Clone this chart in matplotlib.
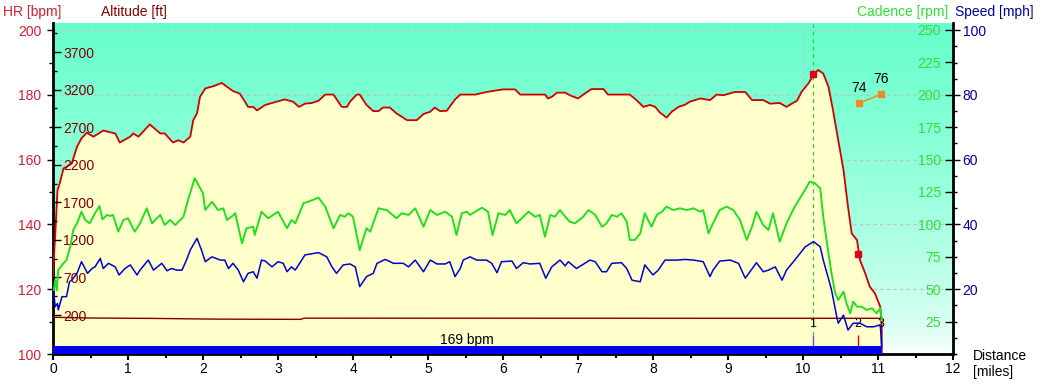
import matplotlib
matplotlib.use('Agg')
import matplotlib.pyplot as plt
import numpy as np
from matplotlib.ticker import MultipleLocator, FixedLocator

plt.rcParams['font.family'] = ['Liberation Sans', 'DejaVu Sans']
plt.rcParams['font.size'] = 10

# ---------------- data ----------------
hr_mi = [0.00,0.01,0.03,0.06,0.09,0.14,0.18,0.25,0.32,0.38,
         0.45,0.54,0.67,0.83,0.89,1.03,1.07,1.14,1.29,1.43,
         1.49,1.60,1.67,1.74,1.83,1.87,1.92,1.96,2.03,2.14,
         2.25,2.32,2.40,2.49,2.56,2.60,2.67,2.72,2.83,2.98,
         3.09,3.20,3.28,3.36,3.45,3.54,3.63,3.74,3.85,3.92,
         3.96,4.05,4.09,4.18,4.27,4.34,4.40,4.49,4.58,4.72,
         4.85,4.94,5.03,5.09,5.16,5.25,5.36,5.43,5.63,5.78,
         6.00,6.16,6.23,6.56,6.60,6.65,6.72,6.83,6.89,7.00,
         7.09,7.18,7.34,7.40,7.69,7.78,7.87,7.96,8.03,8.09,
         8.18,8.25,8.34,8.43,8.49,8.63,8.76,8.85,8.94,9.09,
         9.23,9.32,9.47,9.56,9.69,9.78,9.85,9.92,9.98,10.07,
         10.14,10.20,10.27,10.34,10.40,10.47,10.54,10.60,10.65,10.72,
         10.76,10.83,10.89,10.96,11.03,11.05,11.05]
hr_bpm = [124,129,137,150.6,152.7,157.3,157.8,158.8,164,166.6,
          168.3,167.1,169,168.1,165.3,167.1,168.1,167.1,170.9,168.1,
          168.1,165.3,166,165.3,167.1,172.2,174.3,179.4,182,182.7,
          183.7,182.5,181.2,180.4,177.9,176.3,176.3,175.2,176.9,177.9,
          178.6,177.9,176.3,177.3,177.5,178.2,180.1,180.1,176.3,176.3,
          177.9,180.1,180.1,176.9,175,175,176.1,176.1,174.3,172.2,
          172.2,174.1,174.8,176.1,175,175.1,178.6,180.1,180.1,180.9,
          181.7,181.7,180.1,180.1,178.9,179.4,180.7,180.7,179.9,178.9,
          180.4,181.8,181.8,180.1,180.1,178.4,176.3,176.9,176.3,174.6,
          173,174.8,176.3,177,177.9,178.9,178.4,180.1,179.9,180.9,
          180.9,178.4,178.4,177.3,177.5,176.3,177.3,178.2,180.9,183.5,
          186.1,187.7,186.6,182.5,175.3,166,156.8,145.5,137.2,135.2,
          129,124.9,120.8,118.7,114.6,108.4,100]

cad_mi = [0.01,0.03,0.05,0.07,0.14,0.18,0.23,0.27,0.32,0.38,
          0.43,0.49,0.56,0.62,0.66,0.72,0.76,0.80,0.87,0.94,
          1.00,1.09,1.16,1.25,1.32,1.43,1.49,1.56,1.63,1.74,
          1.80,1.89,2.00,2.03,2.12,2.20,2.27,2.32,2.38,2.43,
          2.47,2.52,2.58,2.67,2.69,2.78,2.87,3.00,3.12,3.18,
          3.23,3.34,3.43,3.54,3.63,3.74,3.83,3.89,3.94,4.00,
          4.09,4.18,4.23,4.34,4.45,4.58,4.65,4.74,4.83,4.94,
          5.03,5.12,5.23,5.32,5.38,5.45,5.52,5.56,5.63,5.72,
          5.80,5.86,5.94,6.03,6.09,6.18,6.34,6.43,6.49,6.56,
          6.63,6.69,6.76,6.83,6.89,6.96,7.07,7.14,7.23,7.32,
          7.38,7.45,7.52,7.58,7.65,7.69,7.76,7.83,7.89,7.98,
          8.05,8.12,8.18,8.27,8.36,8.45,8.54,8.63,8.67,8.74,
          8.80,8.89,8.98,9.07,9.16,9.25,9.32,9.38,9.47,9.54,
          9.60,9.69,9.78,9.89,10.00,10.09,10.16,10.23,10.27,10.32,
          10.38,10.43,10.47,10.54,10.58,10.63,10.67,10.72,10.78,10.85,
          10.92,10.98,11.03,11.05]
cad_rpm = [49.4,57,49,64.8,70,72.5,82.8,95.7,100.8,109.8,
           103.4,100.8,108.6,114.2,103.9,107.3,106.5,107.3,94.4,103.4,
           104.7,94.4,100.8,112.4,100.8,107.3,99.5,103.4,99.5,105.9,
           118.8,135.6,124,111.1,117.5,111.1,112.4,103.4,105.9,108.6,
           98.2,85.4,97,98.2,91.8,109.8,104.7,109.8,97,103.4,
           100.8,116.3,118.1,120.6,113.7,97,107.3,105.9,108.6,105.9,
           80.2,97,94.4,112.4,111.1,104.7,108.6,107.3,112.4,98.2,
           111.1,107.3,109.8,105.9,91.8,108.6,109.8,107.3,109.8,112.9,
           109.8,91.8,108.6,107.3,111.1,100.8,109.8,105.9,107.3,90.5,
           107.3,105.9,111.1,105.9,102.1,100.8,105.9,111.1,107.3,98.2,
           100.8,107.3,105.9,108.6,102.1,88,88,93.1,108.6,98.2,
           107.3,109.8,113.7,111.1,112.4,111.1,112.4,109.8,111.1,93.1,
           100.8,111.1,113.7,111.1,103.4,88,98.2,109.8,99.5,95.7,
           108.6,86.7,100.8,113.7,124,133,131.7,127.9,105.9,85.4,
           62.3,46.8,41.7,48.1,39.1,31.4,40.4,36.5,36.5,34,
           35.3,31.4,35.3,26.2]

spd_mi = [0.01,0.03,0.06,0.07,0.12,0.18,0.22,0.25,0.32,0.38,
          0.46,0.52,0.56,0.63,0.67,0.74,0.83,0.88,0.96,1.03,
          1.12,1.16,1.27,1.34,1.45,1.52,1.58,1.65,1.72,1.78,
          1.83,1.92,1.98,2.03,2.12,2.23,2.29,2.34,2.40,2.47,
          2.54,2.60,2.67,2.72,2.78,2.83,2.92,3.00,3.07,3.12,
          3.18,3.23,3.36,3.54,3.65,3.72,3.78,3.87,3.96,4.03,
          4.09,4.18,4.27,4.32,4.43,4.54,4.67,4.74,4.83,4.94,
          5.03,5.12,5.23,5.29,5.36,5.43,5.47,5.56,5.65,5.78,
          5.85,5.92,5.98,6.12,6.18,6.27,6.36,6.49,6.57,6.65,
          6.76,6.83,6.87,6.98,7.16,7.23,7.32,7.38,7.45,7.58,
          7.65,7.72,7.83,7.89,8.00,8.07,8.16,8.32,8.43,8.54,
          8.67,8.76,8.80,8.89,9.03,9.14,9.23,9.38,9.47,9.54,
          9.63,9.72,9.78,9.89,10.03,10.14,10.23,10.27,10.32,10.38,
          10.45,10.47,10.54,10.60,10.67,10.76,10.85,10.94,11.03,11.05]
spd_mph = [18.7,14.6,15.6,13.6,17.7,17.7,22.3,22.8,24.9,28.5,
           24.9,26.4,26.9,29.5,26.4,28,26.9,24.4,26.4,27.5,
           24.4,25.9,29,25.9,28,25.7,26.4,25.9,25.9,29,
           32.1,35.7,32.1,28.5,30,29,29,26.4,28,25.9,
           22.3,24.9,25.4,23.4,29,28.7,26.9,28.5,28,25.4,
           26.9,25.9,30.6,31.3,30,26.9,24.9,27.5,27.8,26.9,
           20.8,23.9,24.9,28,29.2,28,28,26.9,29,25.4,
           29,27.8,27.8,28.5,23.9,26.4,29,30,29,29,
           28,25.1,28.5,28.7,26.4,28.2,27.8,28,23.4,26.9,
           29,27.2,28.5,26.4,29,28.5,25.4,25.4,28,28.2,
           26.4,22.8,22.3,27.5,24.4,25.9,29,29,29.2,29,
           28.5,23.9,25.9,28.7,29,28,23.4,28.2,25.4,25.9,
           26.9,22.8,25.9,29,33.1,34.7,33.1,29,24.9,19.8,
           11.5,9.5,12,7.4,9.5,9.5,8.4,8.4,9,2.3]

alt_mi = [0.0, 0.5, 1.3, 2.2, 3.3, 3.35, 11.05]
alt_ft = [170, 160, 155, 145, 142, 158, 156]

lap_start = [0.0]
lap_end = [11.05]
lap_avg_label = ['169 bpm']

lap_mi = [10.13, 10.73, 11.04]
lap_names = ['1', '2', '3']
lap_hr = [186.5, 131.0, 113.5]
lap_tick_colors = ['#7050B0', '#E00000', '#7050B0']

rec_mi = [10.74, 11.04]
rec_hr = [177.4, 180.2]
rec_labels = ['74', '76']

hr_ticks = [100, 120, 140, 160, 180, 200]
alt_ticks = [200, 700, 1200, 1700, 2200, 2700, 3200, 3700]
cad_ticks = [25, 50, 75, 100, 125, 150, 175, 200, 225, 250]
spd_ticks = [20, 40, 60, 80, 100]
x_ticks = list(range(0, 13))

# ---------------- figure ----------------
W, H = 1042, 384
fig = plt.figure(figsize=(W / 100, H / 100), dpi=100)
L, R, B, T = 53 / W, 953 / W, 1 - 354 / H, 1 - 23 / H
ax = fig.add_axes([L, B, R - L, T - B])
ax.set_xlim(0, 12)
ax.set_ylim(100, 202.2)

# gradient background
h = np.linspace(0, 1, 300)[:, None]
w = h ** 0.6
top = np.array([0.40, 1.0, 0.80])
grad = (1 - w)[..., None] * np.ones(3) + w[..., None] * top
ax.imshow(grad, extent=[0, 12, 100, 202.2], aspect='auto', origin='lower', zorder=0)

ax.set_axisbelow(True)
ax.grid(axis='y', which='major', color='#C0C0C0', linestyle=(0, (3, 3)), linewidth=0.8)
ax.axvline(10.0, color='#C0C0C0', linestyle=(0, (3, 3)), linewidth=0.8, zorder=0.6)

# HR filled area
ax.fill_between(hr_mi, 100, hr_bpm, color='#FFFFCC', lw=0, zorder=1)
ax.plot(hr_mi, hr_bpm, color='#CC0000', lw=1.3, zorder=3)

# lap bar
for s, e, lbl in zip(lap_start, lap_end, lap_avg_label):
    ax.fill_between([s, e], 100, 102.5, color='#0000EE', lw=0, zorder=4)
    ax.text((s + e) / 2, 103.2, lbl, ha='center', va='baseline', fontsize=10, color='black', zorder=5)

# lap markers
ax.vlines(lap_mi[0], 106, 202.2, colors='#33CC33', linestyles=(0, (3, 3)), lw=0.9, zorder=2)
for m, n, c, hv in zip(lap_mi, lap_names, lap_tick_colors, lap_hr):
    ax.vlines(m, 102.5, 106, colors=c, lw=1, zorder=4)
    ax.text(m, 109.3, n, ha='center', va='center', fontsize=9, color='black', zorder=6)
ax.plot(lap_mi[:2], lap_hr[:2], ls='none', marker='s', ms=5, color='#E0001A', zorder=6)

# recovery points
ax.plot(rec_mi, rec_hr, color='#F08A20', lw=1, marker='s', ms=5, zorder=6)
for m, v, t in zip(rec_mi, rec_hr, rec_labels):
    ax.annotate(t, (m, v), xytext=(0, 6), textcoords='offset points', ha='center',
                va='bottom', fontsize=10, color='black', zorder=6)

# HR axis formatting
ax.yaxis.set_major_locator(FixedLocator(hr_ticks))
ax.yaxis.set_minor_locator(MultipleLocator(10))
ax.tick_params(axis='y', which='major', direction='out', length=4, width=1,
               pad=4.3, labelcolor='#CC2233', labelsize=10)
ax.tick_params(axis='y', which='minor', direction='out', length=3, width=1)
ax.xaxis.set_major_locator(FixedLocator(x_ticks))
ax.xaxis.set_minor_locator(MultipleLocator(0.5))
ax.tick_params(axis='x', which='major', direction='out', length=4, width=1.5, pad=2, labelsize=10)
ax.tick_params(axis='x', which='minor', direction='out', length=3, width=1.5)
for s in ['left', 'bottom', 'right']:
    ax.spines[s].set_linewidth(2)
    ax.spines[s].set_color('black')
ax.spines['top'].set_visible(False)

# altitude axis (left, inside)
alt = ax.twinx()
alt.set_ylim(-319, 4086)
alt.yaxis.set_ticks_position('left')
alt.plot(alt_mi, alt_ft, color='#800000', lw=1.0, zorder=2)
alt.yaxis.set_major_locator(FixedLocator(alt_ticks))
alt.yaxis.set_minor_locator(FixedLocator([450, 950, 1450, 1950, 2450, 2950, 3450, 3950]))
alt.tick_params(axis='y', which='major', direction='in', length=6, width=1, pad=-7.5,
                labelcolor='#800000', labelsize=10)
alt.tick_params(axis='y', which='minor', direction='in', length=3, width=1)
for lbl in alt.get_yticklabels():
    lbl.set_horizontalalignment('left')
for s in alt.spines.values():
    s.set_visible(False)

# cadence axis (right, inside)
cad = ax.twinx()
cad.set_ylim(0, 255.4)
cad.plot(cad_mi, cad_rpm, color='#22DD22', lw=1.4, zorder=3)
cad.yaxis.set_major_locator(FixedLocator(cad_ticks))
cad.tick_params(axis='y', which='major', direction='in', length=6, width=1, pad=-8.6,
                labelcolor='#33DD33', labelsize=10)
for lbl in cad.get_yticklabels():
    lbl.set_horizontalalignment('right')
for s in cad.spines.values():
    s.set_visible(False)

# speed axis (right, outside)
spd = ax.twinx()
spd.set_ylim(0, 102.2)
spd.plot(spd_mi, spd_mph, color='#0000CC', lw=1.1, zorder=3)
spd.yaxis.set_major_locator(FixedLocator(spd_ticks))
spd.yaxis.set_minor_locator(MultipleLocator(5))
spd.tick_params(axis='y', which='major', direction='out', length=5, width=1, pad=2,
                labelcolor='#000099', labelsize=10)
spd.tick_params(axis='y', which='minor', direction='out', length=3, width=1)
for s in spd.spines.values():
    s.set_visible(False)

# titles
fig.text(3 / W, 1 - 12 / H, 'HR [bpm]', color='#CC2233', ha='left', va='center', fontsize=10)
fig.text(101 / W, 1 - 12 / H, 'Altitude [ft]', color='#800000', ha='left', va='center', fontsize=10)
fig.text(948 / W, 1 - 12 / H, 'Cadence [rpm]', color='#33DD33', ha='right', va='center', fontsize=10)
fig.text(955 / W, 1 - 12 / H, 'Speed [mph]', color='#000099', ha='left', va='center', fontsize=10)
fig.text(973 / W, 1 - 356 / H, 'Distance', color='black', ha='left', va='center', fontsize=10)
fig.text(973 / W, 1 - 372 / H, '[miles]', color='black', ha='left', va='center', fontsize=10)

fig.savefig('out.png', dpi=100)
